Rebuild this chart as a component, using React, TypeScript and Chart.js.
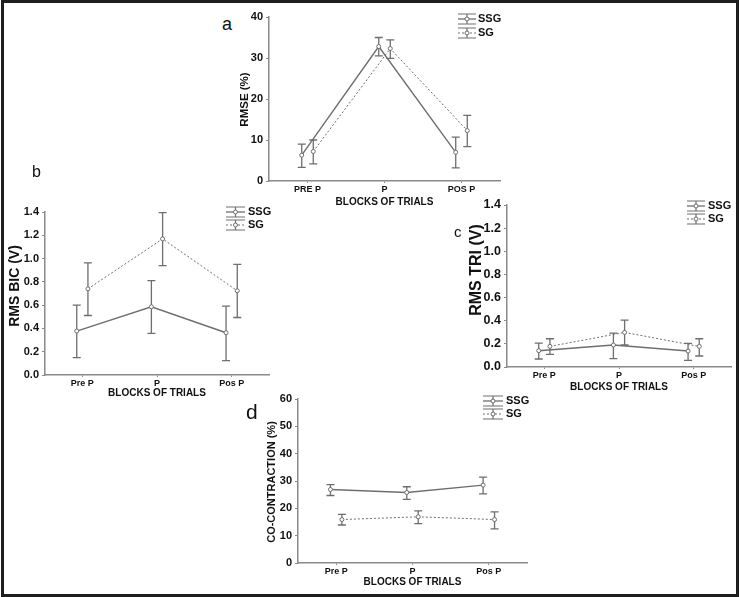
import React, { useEffect, useRef } from 'react';
import { Chart, registerables } from 'chart.js';
Chart.register(...registerables);

// ---------- data ----------
const categoriesA = ['PRE P', 'P', 'POS P'];
const categoriesBCD = ['Pre P', 'P', 'Pos P'];
const seriesNames = ['SSG', 'SG'];
const xAxisTitle = 'BLOCKS OF TRIALS';

const yTicksA = [0, 10, 20, 30, 40];
const yTicksBC = [0, 0.2, 0.4, 0.6, 0.8, 1.0, 1.2, 1.4];
const yTicksD = [0, 10, 20, 30, 40, 50, 60];

// a: RMSE (%)
const rmseSSG = [6.3, 32.8, 7.0];
const rmseSSGLow = [3.3, 30.5, 3.2];
const rmseSSGHigh = [9.0, 35.0, 10.7];
const rmseSG = [7.2, 32.3, 12.3];
const rmseSGLow = [4.2, 29.9, 8.4];
const rmseSGHigh = [10.0, 34.4, 16.0];

// b: RMS BIC (V)
const bicSSG = [0.377, 0.586, 0.363];
const bicSSGLow = [0.149, 0.357, 0.123];
const bicSSGHigh = [0.6, 0.811, 0.591];
const bicSG = [0.74, 1.169, 0.723];
const bicSGLow = [0.511, 0.94, 0.494];
const bicSGHigh = [0.963, 1.394, 0.951];

// c: RMS TRI (V)
const triSSG = [0.141, 0.19, 0.138];
const triSSGLow = [0.069, 0.072, 0.057];
const triSSGHigh = [0.207, 0.293, 0.204];
const triSG = [0.178, 0.299, 0.178];
const triSGLow = [0.109, 0.19, 0.095];
const triSGHigh = [0.244, 0.405, 0.244];

// d: CO-CONTRACTION (%)
const coSSG = [26.9, 25.8, 28.5];
const coSSGLow = [24.7, 23.3, 25.3];
const coSSGHigh = [28.7, 27.9, 31.4];
const coSG = [15.9, 16.9, 15.9];
const coSGLow = [13.9, 14.4, 12.5];
const coSGHigh = [17.8, 19.1, 18.7];

// ---------- styling ----------
const GRAY = '#6e6e6e';
const AXIS = '#8a8a8a';
const TEXT = '#111111';
const FONT = '"Liberation Sans", Arial, Helvetica, sans-serif';
const DODGE = 0.075;

Chart.defaults.font.family = FONT;

type SeriesDef = { name: string; values: number[]; low: number[]; high: number[]; dashed: boolean; dodge: number };

interface PanelDef {
  letter: string; letterX: number; letterY: number; letterSize: number;
  L: number; T: number; R: number; B: number; pR: number;
  yTicks: number[]; yDecimals: number; yTitle: string; yTitleSize: number; yTitleX: number; yTitleY: number; yTickSize: number;
  categories: string[]; xTickSize: number; xTitleGap: number;
  series: SeriesDef[];
  legend: { x0: number; x1: number; ys: number[]; textX: number };
}

const mk = (values: number[], low: number[], high: number[], idx: number): SeriesDef => ({
  name: seriesNames[idx], values, low, high, dashed: idx === 1, dodge: idx === 0 ? -DODGE : DODGE,
});

const panels: PanelDef[] = [
  {
    letter: 'a', letterX: 222, letterY: 14.5, letterSize: 18,
    L: 269, T: 17, R: 500, B: 181, pR: 10,
    yTicks: yTicksA, yDecimals: 0, yTitle: 'RMSE (%)', yTitleSize: 11.5, yTitleX: 245, yTitleY: 99.5, yTickSize: 11,
    categories: categoriesA, xTickSize: 9, xTitleGap: 21,
    series: [mk(rmseSSG, rmseSSGLow, rmseSSGHigh, 0), mk(rmseSG, rmseSGLow, rmseSGHigh, 1)],
    legend: { x0: 458, x1: 476, ys: [19, 33], textX: 478 },
  },
  {
    letter: 'b', letterX: 32, letterY: 163.5, letterSize: 16,
    L: 45, T: 212, R: 269, B: 375, pR: 8,
    yTicks: yTicksBC, yDecimals: 1, yTitle: 'RMS BIC (V)', yTitleSize: 14, yTitleX: 15, yTitleY: 286, yTickSize: 11,
    categories: categoriesBCD, xTickSize: 9, xTitleGap: 18,
    series: [mk(bicSSG, bicSSGLow, bicSSGHigh, 0), mk(bicSG, bicSGLow, bicSGHigh, 1)],
    legend: { x0: 226, x1: 245, ys: [212, 225], textX: 248 },
  },
  {
    letter: 'c', letterX: 454, letterY: 224.3, letterSize: 15,
    L: 507, T: 205, R: 732, B: 367, pR: 4,
    yTicks: yTicksBC, yDecimals: 1, yTitle: 'RMS TRI (V)', yTitleSize: 16, yTitleX: 477, yTitleY: 270, yTickSize: 12.5,
    categories: categoriesBCD, xTickSize: 9, xTitleGap: 20,
    series: [mk(triSSG, triSSGLow, triSSGHigh, 0), mk(triSG, triSGLow, triSGHigh, 1)],
    legend: { x0: 687, x1: 705, ys: [206, 219], textX: 708 },
  },
  {
    letter: 'd', letterX: 246, letterY: 401, letterSize: 21,
    L: 298, T: 399, R: 527, B: 563, pR: 10,
    yTicks: yTicksD, yDecimals: 0, yTitle: 'CO-CONTRACTION (%)', yTitleSize: 11, yTitleX: 272, yTitleY: 482, yTickSize: 11,
    categories: categoriesBCD, xTickSize: 9, xTitleGap: 19,
    series: [mk(coSSG, coSSGLow, coSSGHigh, 0), mk(coSG, coSGLow, coSGHigh, 1)],
    legend: { x0: 483, x1: 503, ys: [401, 414], textX: 506 },
  },
];

const errorBarPlugin = {
  id: 'errorBars',
  beforeDatasetsDraw(chart: any) {
    const ctx = chart.ctx;
    const xs = chart.scales.x;
    const ys = chart.scales.y;
    ctx.save();
    ctx.strokeStyle = GRAY;
    ctx.lineWidth = 1.3;
    chart.data.datasets.forEach((ds: any) => {
      ds.data.forEach((pt: any, i: number) => {
        const x = xs.getPixelForValue(pt.x);
        const yl = ys.getPixelForValue(ds.errLow[i]);
        const yh = ys.getPixelForValue(ds.errHigh[i]);
        ctx.beginPath();
        ctx.moveTo(x, yl); ctx.lineTo(x, yh);
        ctx.moveTo(x - 4, yl); ctx.lineTo(x + 4, yl);
        ctx.moveTo(x - 4, yh); ctx.lineTo(x + 4, yh);
        ctx.stroke();
      });
    });
    ctx.restore();
  },
};

function PanelChart({ p }: { p: PanelDef }) {
  const ref = useRef<HTMLCanvasElement>(null);
  const pT = 14;
  const left = Math.round(p.yTitleX - (p.yTitleSize * 1.2) / 2 - 2);
  const yW = p.L - left;
  const xH = p.xTitleGap + 6;
  const top = p.T - pT;
  const width = p.R - p.L + yW + p.pR;
  const height = p.B - p.T + pT + xH;

  useEffect(() => {
    const overlayPlugin = {
      id: 'overlay',
      afterDraw(chart: any) {
        const ctx = chart.ctx;
        ctx.save();
        // y-axis title
        ctx.translate(p.yTitleX - left, p.yTitleY - top);
        ctx.rotate(-Math.PI / 2);
        ctx.fillStyle = TEXT;
        ctx.font = `bold ${p.yTitleSize}px ${FONT}`;
        ctx.textAlign = 'center';
        ctx.textBaseline = 'middle';
        ctx.fillText(p.yTitle, 0, 0);
        ctx.restore();

        // legend
        ctx.save();
        const lg = p.legend;
        const x0 = lg.x0 - left, x1 = lg.x1 - left;
        const xm = (x0 + x1) / 2;
        p.series.forEach((s, i) => {
          const yc = lg.ys[i] - top;
          ctx.strokeStyle = GRAY;
          ctx.lineWidth = 1.2;
          ctx.setLineDash([]);
          ctx.beginPath();
          ctx.moveTo(x0, yc - 5); ctx.lineTo(x1, yc - 5);
          ctx.moveTo(x0, yc + 5); ctx.lineTo(x1, yc + 5);
          ctx.moveTo(xm, yc - 5); ctx.lineTo(xm, yc + 5);
          ctx.stroke();
          ctx.lineWidth = s.dashed ? 1 : 1.3;
          ctx.setLineDash(s.dashed ? [2, 2] : []);
          ctx.beginPath();
          ctx.moveTo(x0, yc); ctx.lineTo(x1, yc);
          ctx.stroke();
          ctx.setLineDash([]);
          ctx.beginPath();
          ctx.arc(xm, yc, 2, 0, Math.PI * 2);
          ctx.fillStyle = '#fff';
          ctx.fill();
          ctx.lineWidth = 1;
          ctx.stroke();
          ctx.fillStyle = TEXT;
          ctx.font = `bold 11px ${FONT}`;
          ctx.textBaseline = 'middle';
          ctx.textAlign = 'left';
          ctx.fillText(s.name, lg.textX - left, yc);
        });
        ctx.restore();
      },
    };

    const chart = new Chart(ref.current as HTMLCanvasElement, {
      type: 'line',
      data: {
        datasets: p.series.map((s) => ({
          label: s.name,
          data: s.values.map((v, i) => ({ x: i + s.dodge, y: v })),
          borderColor: GRAY,
          borderWidth: s.dashed ? 1 : 1.4,
          borderDash: s.dashed ? [2, 2] : [],
          pointRadius: 2,
          pointBackgroundColor: '#ffffff',
          pointBorderColor: GRAY,
          pointBorderWidth: 1,
          tension: 0,
          errLow: s.low,
          errHigh: s.high,
        })) as any,
      },
      options: {
        animation: false,
        responsive: false,
        maintainAspectRatio: false,
        devicePixelRatio: 1,
        layout: { padding: { left: 0, top: pT, right: p.pR, bottom: 0 } },
        plugins: { legend: { display: false }, tooltip: { enabled: false } },
        scales: {
          x: {
            type: 'linear',
            min: -0.5,
            max: 2.5,
            afterBuildTicks: (s: any) => { s.ticks = p.categories.map((_, i) => ({ value: i })); },
            afterFit: (s: any) => { s.height = xH; },
            ticks: {
              callback: (v: any) => p.categories[Math.round(Number(v))] ?? '',
              font: { size: p.xTickSize, weight: 'bold' },
              color: TEXT,
              padding: 1,
              maxRotation: 0,
              autoSkip: false,
            },
            grid: { drawOnChartArea: false, tickLength: 2, color: AXIS },
            border: { color: AXIS, width: 1.5 },
            title: { display: true, text: xAxisTitle, font: { size: 10, weight: 'bold' }, color: TEXT, padding: 0 },
          },
          y: {
            type: 'linear',
            min: p.yTicks[0],
            max: p.yTicks[p.yTicks.length - 1],
            afterBuildTicks: (s: any) => { s.ticks = p.yTicks.map((v) => ({ value: v })); },
            afterFit: (s: any) => { s.width = yW; },
            ticks: {
              callback: (v: any) => Number(v).toFixed(p.yDecimals),
              font: { size: p.yTickSize, weight: 'bold' },
              color: TEXT,
              padding: 3,
            },
            grid: { drawOnChartArea: false, tickLength: 3, color: AXIS },
            border: { color: AXIS, width: 1.5 },
            title: { display: false },
          },
        },
      } as any,
      plugins: [errorBarPlugin, overlayPlugin],
    });
    return () => chart.destroy();
  }, []);

  return (
    <canvas
      ref={ref}
      width={width}
      height={height}
      style={{ position: 'absolute', left, top, width, height }}
    />
  );
}

export default function App() {
  return (
    <div style={{ position: 'fixed', left: 0, top: 0, width: 740, height: 597, background: '#fff', overflow: 'hidden' }}>
      {panels.map((p) => <PanelChart key={p.letter} p={p} />)}
      {panels.map((p) => (
        <div
          key={'letter-' + p.letter}
          style={{ position: 'absolute', left: p.letterX, top: p.letterY, fontFamily: FONT, fontSize: p.letterSize, lineHeight: 1, color: TEXT }}
        >
          {p.letter}
        </div>
      ))}
      <div
        style={{ position: 'absolute', left: 1, top: 0, width: 738, height: 597, boxSizing: 'border-box', border: '3px solid #1e1e1e', pointerEvents: 'none' }}
      />
    </div>
  );
}
